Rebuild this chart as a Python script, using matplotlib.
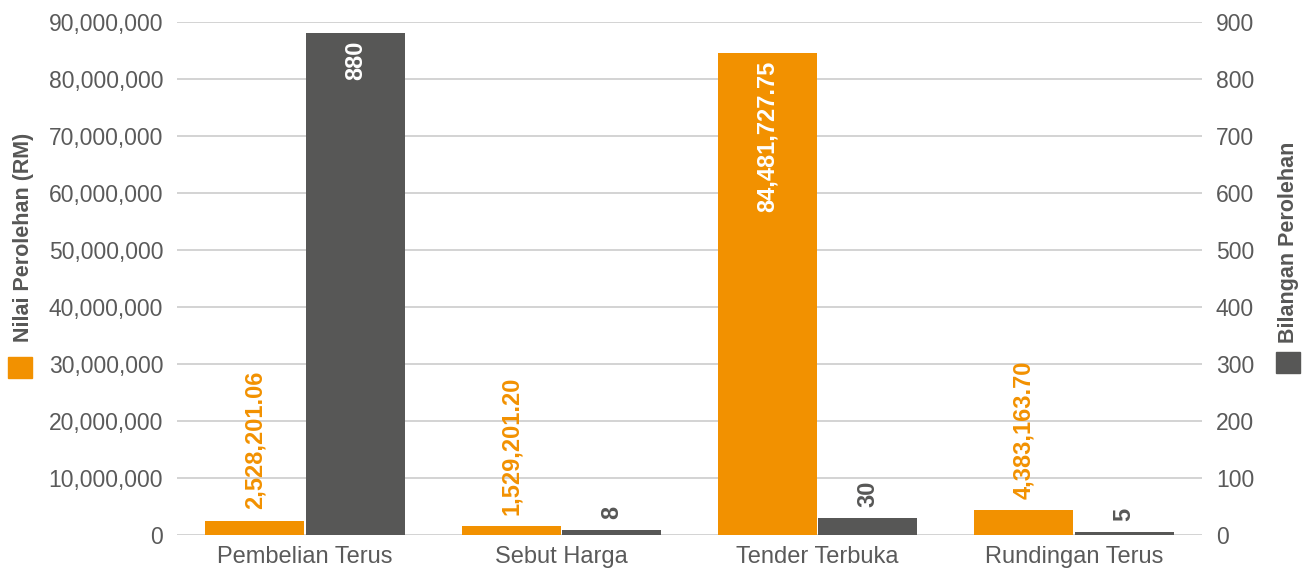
import numpy as np
import matplotlib
matplotlib.use('Agg')
import matplotlib.pyplot as plt
from matplotlib.patches import Rectangle
from matplotlib.ticker import FuncFormatter

categories = ['Pembelian Terus', 'Sebut Harga', 'Tender Terbuka', 'Rundingan Terus']
nilai = [2528201.06, 1529201.20, 84481727.75, 4383163.70]
bilangan = [880, 8, 30, 5]

orange = '#F29100'
grey = '#575756'
text_grey = '#5a5a5a'

plt.rcParams['font.family'] = ['Liberation Sans', 'DejaVu Sans']

fig = plt.figure(figsize=(13.15, 5.72), dpi=100)
ax = fig.add_axes([0.1346, 0.0647, 0.7795, 0.8968])
ax2 = ax.twinx()

x = np.arange(len(categories))
w = 0.387
off = 0.196

ax.set_ylim(0, 90_000_000)
ax2.set_ylim(0, 900)
ax.set_xlim(-0.5, len(categories) - 0.5)

ax.set_yticks(np.arange(0, 90_000_001, 10_000_000))
ax2.set_yticks(np.arange(0, 901, 100))
ax.yaxis.set_major_formatter(FuncFormatter(lambda v, p: f'{v:,.0f}'))
ax.grid(axis='y', color='#cccccc', linewidth=1.2)
ax.set_axisbelow(True)

b1 = ax.bar(x - off, nilai, width=w, color=orange, zorder=3)
b2 = ax2.bar(x + off, bilangan, width=w, color=grey, zorder=3)

for a in (ax, ax2):
    for s in a.spines.values():
        s.set_visible(False)
    a.tick_params(length=0, labelsize=16.5, labelcolor=text_grey)
ax.tick_params(axis='y', pad=10)
ax2.tick_params(axis='y', pad=10)
ax.set_xticks(x)
ax.set_xticklabels(categories, fontsize=17)
ax.tick_params(axis='x', pad=8)


def label_bars(a, bars, vals, fmt, color, top):
    for bar, v in zip(bars, vals):
        cx = bar.get_x() + bar.get_width() / 2
        h = bar.get_height()
        if h / top > 0.5:
            a.annotate(fmt(v), (cx, h), xytext=(0, -5), textcoords='offset points',
                       rotation=90, ha='center', va='top', color='white',
                       fontsize=17, fontweight='bold', zorder=5)
        else:
            a.annotate(fmt(v), (cx, h), xytext=(0, 8), textcoords='offset points',
                       rotation=90, ha='center', va='bottom', color=color,
                       fontsize=17, fontweight='bold', zorder=5)


label_bars(ax, b1, nilai, lambda v: f'{v:,.2f}', orange, 90_000_000)
label_bars(ax2, b2, bilangan, lambda v: f'{v:,.0f}', grey, 900)

fig.text(0.018, 0.585, 'Nilai Perolehan (RM)', rotation=90, ha='center', va='center',
         fontsize=15.5, fontweight='bold', color=grey)
fig.text(0.980, 0.577, 'Bilangan Perolehan', rotation=90, ha='center', va='center',
         fontsize=15.5, fontweight='bold', color=grey)
fig.patches.append(Rectangle((0.0061, 0.339), 0.0183, 0.0367, transform=fig.transFigure,
                             color=orange, figure=fig))
fig.patches.append(Rectangle((0.9703, 0.348), 0.0183, 0.0367, transform=fig.transFigure,
                             color=grey, figure=fig))

fig.savefig('out.png', dpi=100)
